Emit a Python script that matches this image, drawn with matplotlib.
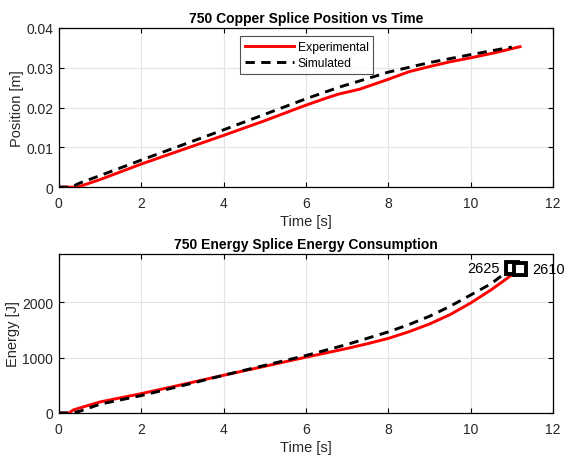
import matplotlib
matplotlib.use("Agg")
import matplotlib.pyplot as plt

plt.rcParams['font.family'] = ['Liberation Sans', 'DejaVu Sans']

# Position vs time
t_exp_pos = [0.0, 0.45, 1.0, 2.0, 3.0, 4.0, 5.0, 6.0, 6.5, 6.8, 7.3, 8.0, 8.5, 9.0, 9.5, 10.0, 10.6, 11.2]
pos_exp = [0.0, 0.0, 0.0019, 0.0058, 0.0094, 0.0130, 0.0167, 0.0206, 0.0224, 0.0234, 0.0246, 0.0271, 0.0290, 0.0303, 0.0315, 0.0325, 0.0338, 0.0353]
t_sim_pos = [0.0, 0.3, 0.5, 1.0, 2.0, 3.0, 4.0, 5.0, 6.0, 6.8, 7.5, 8.0, 9.0, 10.0, 11.0]
pos_sim = [0.0, 0.0, 0.0010, 0.0029, 0.0068, 0.0106, 0.0144, 0.0183, 0.0222, 0.0251, 0.0273, 0.0289, 0.0313, 0.0333, 0.0352]

# Energy vs time
t_exp_en = [0.0, 0.25, 0.35, 0.5, 1.0, 2.0, 3.0, 4.0, 5.0, 6.0, 7.0, 7.5, 8.0, 8.5, 9.0, 9.5, 10.0, 10.5, 10.8, 11.2]
en_exp = [0.0, 0.0, 55, 90, 200, 350, 515, 683, 845, 1010, 1168, 1255, 1350, 1470, 1610, 1780, 1990, 2230, 2390, 2610]
t_sim_en = [0.0, 0.3, 0.5, 1.0, 2.0, 3.0, 4.0, 5.0, 6.0, 7.0, 8.0, 8.5, 9.0, 9.5, 10.0, 10.5, 11.0]
en_sim = [0.0, 0.0, 30, 160, 315, 495, 683, 862, 1040, 1240, 1467, 1600, 1750, 1930, 2135, 2340, 2625]

xticks = [0, 2, 4, 6, 8, 10, 12]
pos_ticks = [0, 0.01, 0.02, 0.03, 0.04]
pos_ticklabels = ['0', '0.01', '0.02', '0.03', '0.04']
en_ticks = [0, 1000, 2000]

txt = '#262626'
fig = plt.figure(figsize=(5.66, 4.6), dpi=100)
ax1 = fig.add_axes([0.104, 0.591, 0.873, 0.346])
ax2 = fig.add_axes([0.104, 0.100, 0.873, 0.346])


def style(ax):
    ax.set_xlim(0, 12)
    ax.set_xticks(xticks)
    ax.grid(True, color='#e3e3e3', linewidth=0.8)
    ax.set_axisbelow(True)
    ax.tick_params(direction='in', top=True, right=True, length=3.5,
                   labelsize=10, colors='black', labelcolor=txt, width=0.8)
    ax.tick_params(axis='x', pad=6.5)
    ax.tick_params(axis='y', pad=4)
    for s in ax.spines.values():
        s.set_color('black')
        s.set_linewidth(0.9)
    ax.set_xlabel('Time [s]', fontsize=10.5, color=txt, labelpad=3)


ax1.plot(t_exp_pos, pos_exp, color='#ff0000', lw=2.1, label='Experimental', zorder=3)
ax1.plot(t_sim_pos, pos_sim, color='black', lw=2.1, ls=(0, (3.2, 2.2)), label='Simulated', zorder=4)
style(ax1)
ax1.set_ylim(0, 0.04)
ax1.set_yticks(pos_ticks)
ax1.set_yticklabels(pos_ticklabels)
ax1.set_ylabel('Position [m]', fontsize=10.5, color=txt, labelpad=1.5)
ax1.set_title('750 Copper Splice Position vs Time', fontsize=10, fontweight='bold', pad=4)
leg = ax1.legend(loc='upper left', bbox_to_anchor=(0.366, 0.95), fontsize=8.7,
                 frameon=True, fancybox=False, edgecolor='#262626', handlelength=4.1,
                 borderpad=0.4, labelspacing=0.35, handletextpad=0.3, borderaxespad=0)
leg.get_frame().set_linewidth(0.8)

ax2.plot(t_exp_en, en_exp, color='#ff0000', lw=2.1, zorder=3)
ax2.plot(t_sim_en, en_sim, color='black', lw=2.1, ls=(0, (3.2, 2.2)), zorder=4)
style(ax2)
ax2.set_ylim(0, 2880)
ax2.set_yticks(en_ticks)
ax2.set_ylabel('Energy [J]', fontsize=10.5, color=txt, labelpad=1.5)
ax2.set_title('750 Energy Splice Energy Consumption', fontsize=10, fontweight='bold', pad=4)

# data tips on the final points
for tx, ty, ha, dx in [(t_sim_en[-1], en_sim[-1], 'right', -9),
                       (t_exp_en[-1], en_exp[-1], 'left', 9)]:
    ax2.plot([tx], [ty], marker='s', ms=9, mfc='white', mec='black', mew=2.8,
             clip_on=False, zorder=6)
    ax2.annotate(str(ty), (tx, ty), xytext=(dx, 0), textcoords='offset points',
                 ha=ha, va='center', fontsize=10.5, color='black',
                 annotation_clip=False, zorder=7)

fig.savefig('out.png', dpi=100)
